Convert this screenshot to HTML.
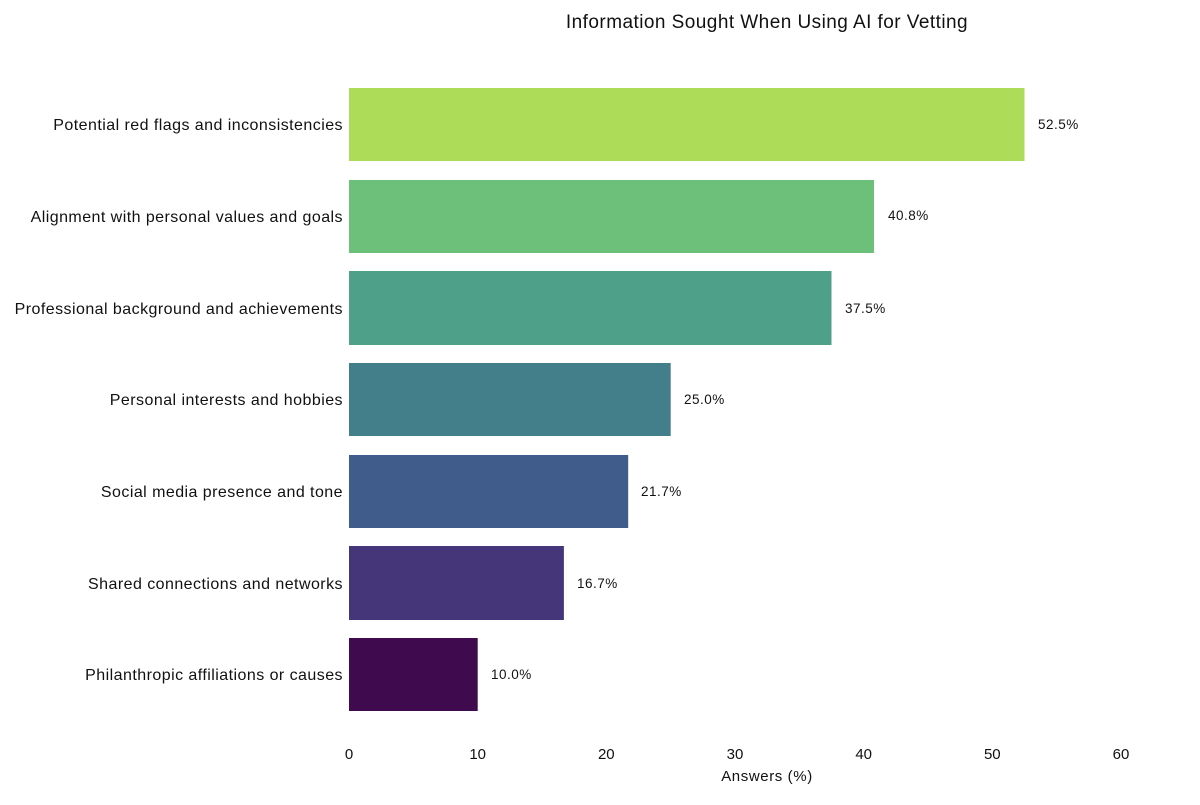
<!DOCTYPE html>
<html><head><meta charset="utf-8"><style>
body{margin:0;background:#fff;}
svg text{font-family:"Liberation Sans",sans-serif;fill:#111;}
</style></head><body>
<svg width="1200" height="800" xmlns="http://www.w3.org/2000/svg">
<text x="767" y="28" font-size="19" text-anchor="middle" letter-spacing="0.45">Information Sought When Using AI for Vetting</text>
<g font-size="16" text-anchor="end" letter-spacing="0.45">
<text x="343" y="130">Potential red flags and inconsistencies</text>
<text x="343" y="222">Alignment with personal values and goals</text>
<text x="343" y="314">Professional background and achievements</text>
<text x="343" y="405">Personal interests and hobbies</text>
<text x="343" y="497">Social media presence and tone</text>
<text x="343" y="589">Shared connections and networks</text>
<text x="343" y="680">Philanthropic affiliations or causes</text>
</g>
<rect x="349" y="88" width="675.5" height="73" fill="#addc58"/>
<rect x="349" y="180" width="525" height="73" fill="#6dc07a"/>
<rect x="349" y="271" width="482.5" height="74" fill="#4ea089"/>
<rect x="349" y="363" width="321.7" height="73" fill="#437e8b"/>
<rect x="349" y="455" width="279.2" height="73" fill="#405c8b"/>
<rect x="349" y="546" width="214.9" height="74" fill="#45367a"/>
<rect x="349" y="638" width="128.7" height="73" fill="#3f0a4e"/>
<g font-size="13.5" letter-spacing="0.5">
<text x="1038" y="129">52.5%</text>
<text x="888" y="220">40.8%</text>
<text x="845" y="313">37.5%</text>
<text x="684" y="404">25.0%</text>
<text x="641" y="496">21.7%</text>
<text x="577" y="588">16.7%</text>
<text x="491" y="679">10.0%</text>
</g>
<g font-size="15" text-anchor="middle">
<text x="349" y="759">0</text>
<text x="477.7" y="759">10</text>
<text x="606.3" y="759">20</text>
<text x="735" y="759">30</text>
<text x="863.7" y="759">40</text>
<text x="992.3" y="759">50</text>
<text x="1121" y="759">60</text>
<text x="767" y="781" letter-spacing="0.6">Answers (%)</text>
</g>
</svg>
</body></html>
